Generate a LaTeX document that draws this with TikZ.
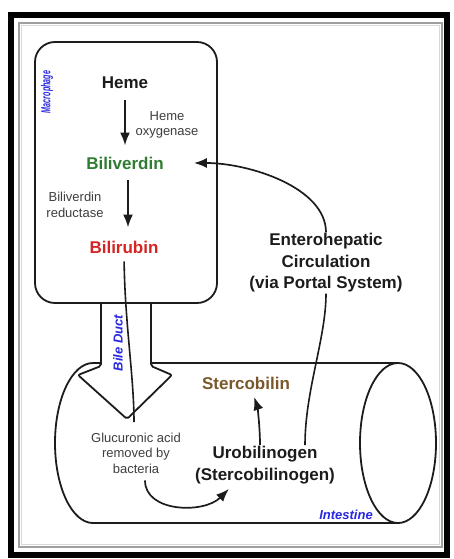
\documentclass[tikz,border=0pt]{standalone}
\usepackage{fontspec}
\setmainfont{Liberation Sans}
\usetikzlibrary{positioning, arrows.meta}
\definecolor{verdin}{RGB}{46,125,50}
\definecolor{rubin}{RGB}{214,36,36}
\definecolor{sterco}{RGB}{122,88,42}
\definecolor{tagblue}{RGB}{40,40,225}
\definecolor{ink}{RGB}{28,28,28}

\begin{document}
\begin{tikzpicture}[x=1pt, y=-1pt,
    big/.style={font=\fontsize{17}{21.5}\selectfont\bfseries, align=center, text=ink, inner sep=1pt},
    note/.style={font=\fontsize{13}{15.5}\selectfont, align=center, text=ink!85, inner sep=1pt},
    tag/.style={font=\fontsize{13}{15}\selectfont\bfseries\itshape, text=tagblue, inner sep=0pt},
    wall/.style={draw=ink, line width=1.8pt},
    flow/.style={draw=ink, line width=2.2pt, -{Latex[length=13pt,width=10pt]}},
    flowthin/.style={draw=ink, line width=1.7pt, -{Latex[length=13pt,width=10pt]}},
    trace/.style={draw=ink, line width=1.6pt}]
    \useasboundingbox (0,0) rectangle (454,559);

    \coordinate (A) at (93,363);
    \coordinate (B) at (398,363);
    \coordinate (C) at (93,523);
    \coordinate (D) at (398,523);
    \coordinate (E) at (398,443);
    \coordinate (G) at (134,422);

    % frame
    \draw[line width=6pt] (11,15) rectangle (447,555);
    \draw[gray!75, line width=2pt] (19,23) rectangle (442,547);
    \draw[gray!30, line width=1pt] (21.5,25.5) rectangle (439.5,544.5);

    % intestine
    \draw[wall] (A) -- (B);
    \draw[wall] (C) -- (D);
    \draw[wall] (A) arc[start angle=-90, end angle=-270, x radius=38, y radius=80];
    \draw[wall] (E) ellipse[x radius=38, y radius=80];

    % bile duct
    \draw[wall, fill=white, rounded corners=2pt] (101,303) -- (101,366) -- (78,375) -- (127,419)
        -- (172,375) -- (151,366) -- (151,303);

    % macrophage
    \draw[wall, fill=white, rounded corners=20pt] (35,42) rectangle (217,303);

    \node[big] (heme) at (125,83) {Heme};
    \node[big, text=verdin] (bv) at (125,163) {Biliverdin};
    \node[big, text=rubin] (br) at (124,247) {Bilirubin};
    \node[note] (hox) at (167,125) {Heme\\oxygenase};
    \node[note] (bvr) at (75,205) {Biliverdin\\reductase};
    \node[note] (glu) at (136,453) {Glucuronic acid\\removed by\\bacteria};
    \node[big, text=sterco] (sterco) at (246,383) {Stercobilin};
    \node[big] (uro) at (265,465) {Urobilinogen\\(Stercobilinogen)};
    \node[big] (circ) at (326,263) {Enterohepatic\\Circulation\\(via Portal System)};

    \node[tag, rotate=90] (mac) at (47,92) {\scalebox{0.55}[1]{Macrophage}};
    \node[tag, rotate=90] (duct) at (118,343) {Bile Duct};
    \node[tag] (gut) at (346,515) {Intestine};

    \draw[flow, shorten <=10pt, shorten >=10pt] (heme.south) -- (bv.north);
    \draw[flow, shorten <=10pt, shorten >=12pt] ([xshift=3pt]bv.south) -- ([xshift=4pt]br.north);
    \draw[trace, shorten <=7pt] (br.south) .. controls +(1,70) and +(0,-45) .. (G);
    \draw[flowthin, shorten <=6pt] ([xshift=9pt]glu.south) .. controls +(0,38) and +(-25,25) .. ([xshift=35pt, yshift=-4pt]uro.south west);
    \draw[flowthin, shorten >=7pt] ([xshift=-5pt]uro.north) .. controls +(0,-20) and +(5,15) .. ([xshift=6pt]sterco.south);
    \draw[trace] ([xshift=40pt]uro.north) .. controls +(0,-55) and +(0,45) .. (circ.south);
    \draw[flowthin] (circ.north) .. controls +(0,-45) and +(55,0) .. ([xshift=29pt]bv.east);
\end{tikzpicture}
\end{document}
